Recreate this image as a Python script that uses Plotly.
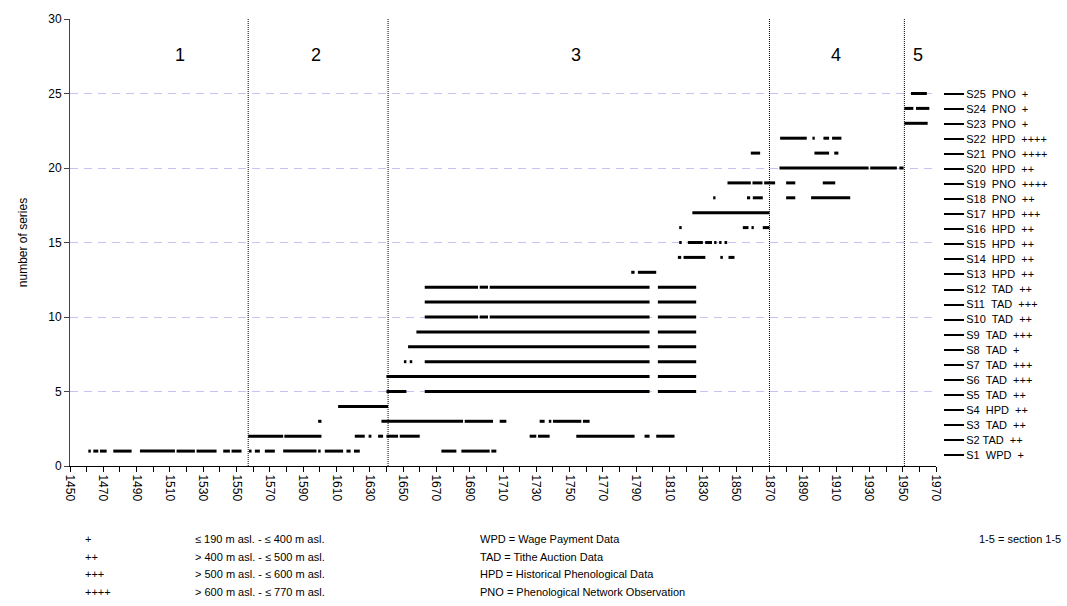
import plotly.graph_objects as go

# ---------------- data ----------------
series_labels = [
    "S1  WPD  +", "S2 TAD  ++", "S3  TAD  ++", "S4  HPD  ++", "S5  TAD  ++",
    "S6  TAD  +++", "S7  TAD  +++", "S8  TAD  +", "S9  TAD  +++", "S10  TAD  ++",
    "S11  TAD  +++", "S12  TAD  ++", "S13  HPD  ++", "S14  HPD  ++", "S15  HPD  ++",
    "S16  HPD  ++", "S17  HPD  +++", "S18  PNO  ++", "S19  PNO  ++++", "S20  HPD  ++",
    "S21  PNO  ++++", "S22  HPD  ++++", "S23  PNO  +", "S24  PNO  +", "S25  PNO  +",
]

# coverage periods (start year, end year) of each series
s1 = [(1461, 1462.5), (1464, 1467), (1468, 1472), (1476, 1487), (1492, 1513), (1514, 1525),
      (1526, 1538), (1542, 1546), (1547, 1553), (1557.5, 1559), (1561, 1564), (1567, 1573),
      (1578, 1598), (1599, 1600.5), (1603, 1614), (1616, 1618.5), (1620.5, 1624),
      (1673, 1682), (1685, 1702), (1703, 1706)]
s2 = [(1557, 1578), (1578.7, 1601), (1621, 1627), (1629.3, 1631), (1635, 1638), (1640, 1647),
      (1648, 1660), (1726, 1730), (1731, 1738), (1754, 1789), (1795, 1798), (1802, 1813)]
s3 = [(1599, 1601), (1637, 1686), (1687, 1704), (1708, 1712), (1732, 1735), (1737.5, 1739),
      (1740, 1757), (1758, 1762)]
s4 = [(1611, 1641)]
s5 = [(1640, 1652), (1663, 1798), (1803, 1826)]
s6 = [(1640, 1798), (1803, 1826)]
s7 = [(1650.5, 1652), (1654, 1655.5), (1663, 1798), (1803, 1826)]
s8 = [(1653, 1798), (1803, 1826)]
s9 = [(1658, 1798), (1803, 1826)]
s10 = [(1663, 1695), (1696, 1701), (1702, 1798), (1803, 1826)]
s11 = [(1663, 1798), (1803, 1826)]
s12 = [(1663, 1695), (1696, 1701), (1702, 1798), (1803, 1826)]
s13 = [(1787, 1789), (1791, 1802)]
s14 = [(1815, 1817), (1818.4, 1831.5), (1840.5, 1842), (1845.4, 1849)]
s15 = [(1815.8, 1817.3), (1821, 1830), (1831.4, 1835.5), (1836.8, 1838.2), (1839.8, 1841.2),
       (1843, 1844.6)]
s16 = [(1815.8, 1817.3), (1854, 1857.4), (1859.2, 1860.6), (1866, 1870)]
s17 = [(1823.7, 1870)]
s18 = [(1836.2, 1837.6), (1856.5, 1858.4), (1860, 1866), (1880, 1885.5), (1895, 1918.5)]
s19 = [(1844.8, 1858.8), (1859.8, 1865.8), (1866.8, 1873.4), (1880, 1885.5), (1902, 1909.5)]
s20 = [(1876, 1929.5), (1930.5, 1946.5), (1948, 1950.5)]
s21 = [(1858.8, 1864.4), (1897, 1905.8), (1908.9, 1911.4)]
s22 = [(1876.4, 1892.4), (1895.8, 1897.2), (1902.4, 1905.8), (1907.6, 1913.2)]
s23 = [(1951, 1965)]
s24 = [(1951, 1956.4), (1958, 1966)]
s25 = [(1955, 1964.5)]
segments = [s1, s2, s3, s4, s5, s6, s7, s8, s9, s10, s11, s12, s13, s14, s15, s16, s17,
            s18, s19, s20, s21, s22, s23, s24, s25]

section_names = ["1", "2", "3", "4", "5"]
section_label_x = [1516, 1598, 1754, 1910, 1959]
section_bounds = [1557, 1641, 1870, 1951]

x_tick_vals = list(range(1450, 1971, 10))
x_tick_text = [str(v) if (v - 1450) % 20 == 0 else "" for v in x_tick_vals]
y_tick_vals = [0, 5, 10, 15, 20, 25, 30]

elev_symbols = ["+", "++", "+++", "++++"]
elev_ranges = ["≤ 190 m asl. - ≤ 400 m asl.", "> 400 m asl. - ≤ 500 m asl.",
               "> 500 m asl. - ≤ 600 m asl.", "> 600 m asl. - ≤ 770 m asl."]
source_keys = ["WPD = Wage Payment Data", "TAD = Tithe Auction Data",
               "HPD = Historical Phenological Data", "PNO = Phenological Network Observation"]
section_note = "1-5 = section 1-5"

# ---------------- figure ----------------
W, H = 1067, 606
ML, MT, MB = 70, 15, 140
plot_right = 943
MR = W - plot_right
paper_w = plot_right - ML
paper_h = H - MT - MB
x_dom_end = (936 - ML) / paper_w

FONT = "Arial, Liberation Sans, sans-serif"

fig = go.Figure()
for i, segs in enumerate(segments, start=1):
    xs, ys = [], []
    for a, b in segs:
        xs += [a, b, None]
        ys += [i, i, None]
    fig.add_trace(go.Scatter(x=xs, y=ys, mode="lines",
                             line=dict(color="black", width=3),
                             showlegend=False, hoverinfo="skip"))

# invisible trace to activate right "legend" axis
fig.add_trace(go.Scatter(x=[1450], y=[0], yaxis="y2", mode="markers",
                         marker=dict(opacity=0), showlegend=False, hoverinfo="skip"))

legend_pos = [0.73 + k * 1.0105 for k in range(len(series_labels))]
legend_text = [lbl.replace("  ", " \u00a0") for lbl in series_labels]

shapes = []
for b in section_bounds:
    shapes.append(dict(type="line", xref="x", yref="y", x0=b, x1=b, y0=0, y1=30,
                       line=dict(color="black", width=1, dash="1px,1px")))

annotations = []
for name, sx in zip(section_names, section_label_x):
    annotations.append(dict(x=sx, y=27.6, xref="x", yref="y", text=name, showarrow=False,
                            font=dict(size=18, color="black", family=FONT)))

row_y = [540, 557.5, 575, 593]
def px_to_paper_x(px):
    return (px - ML) / paper_w
def px_to_paper_y(py):
    return (H - MB - py) / paper_h

for k in range(4):
    yy = px_to_paper_y(row_y[k])
    annotations.append(dict(x=px_to_paper_x(83), y=yy, xref="paper", yref="paper",
                            text=elev_symbols[k], showarrow=False, xanchor="left",
                            yanchor="middle", font=dict(size=11, color="black", family=FONT)))
    annotations.append(dict(x=px_to_paper_x(193), y=yy, xref="paper", yref="paper",
                            text=elev_ranges[k], showarrow=False, xanchor="left",
                            yanchor="middle", font=dict(size=11, color="black", family=FONT)))
    annotations.append(dict(x=px_to_paper_x(478), y=yy, xref="paper", yref="paper",
                            text=source_keys[k], showarrow=False, xanchor="left",
                            yanchor="middle", font=dict(size=11, color="black", family=FONT)))
annotations.append(dict(x=px_to_paper_x(977), y=px_to_paper_y(row_y[0]), xref="paper",
                        yref="paper", text=section_note, showarrow=False, xanchor="left",
                        yanchor="middle", font=dict(size=11, color="black", family=FONT)))

fig.update_layout(
    width=W, height=H,
    margin=dict(l=ML, r=MR, t=MT, b=MB, pad=0),
    paper_bgcolor="white", plot_bgcolor="white",
    font=dict(family=FONT, size=12, color="black"),
    showlegend=False,
    xaxis=dict(domain=[0, x_dom_end], range=[1450, 1970], tickmode="array",
               tickvals=x_tick_vals, ticktext=x_tick_text, tickangle=90,
               ticks="outside", ticklen=5, tickcolor="black", tickwidth=1,
               showline=True, linecolor="black", linewidth=1, showgrid=False,
               zeroline=False, tickfont=dict(size=12, family=FONT, color="black")),
    yaxis=dict(range=[0, 30], tickmode="array", tickvals=y_tick_vals,
               ticks="outside", ticklen=5, tickcolor="#444", showline=True,
               linecolor="#444", linewidth=1, showgrid=True, gridcolor="#c4c4f4",
               griddash="8px,6px", gridwidth=1, zeroline=False,
               tickfont=dict(size=12, family=FONT, color="black"),
               title=dict(text="number of series", standoff=18,
                          font=dict(size=12, family=FONT, color="black"))),
    yaxis2=dict(range=[0, 30], overlaying="y", side="right", anchor="free", position=1,
                tickmode="array", tickvals=legend_pos, ticktext=legend_text,
                ticks="outside", ticklen=20, tickwidth=2, tickcolor="black",
                showline=False, showgrid=False, zeroline=False,
                tickfont=dict(size=11, family=FONT, color="black")),
    shapes=shapes,
    annotations=annotations,
)

fig.write_html("out.html")
